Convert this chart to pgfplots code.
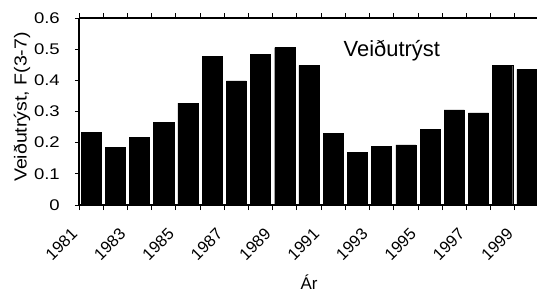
\documentclass[border=0pt]{standalone}
\usepackage{pgfplots}
\pgfplotsset{compat=1.18}
\usepackage{fontspec}
\setmainfont{Liberation Sans}
\newcommand{\yt}[1]{\scalebox{1.2}[1]{#1}}
\begin{document}
\begin{tikzpicture}
\begin{axis}[
  scale only axis,
  width=460bp, height=187bp,
  at={(0,0)}, anchor=south west,
  xmin=-0.5, xmax=18.5,
  ymin=0, ymax=0.6,
  ytick={0,0.1,...,0.6},
  yticklabels={\yt{0},\yt{0.1},\yt{0.2},\yt{0.3},\yt{0.4},\yt{0.5},\yt{0.6}},
  xtick={0,2,...,18},
  xticklabels={1981,1983,1985,1987,1989,1991,1993,1995,1997,1999},
  minor xtick={-0.5,0.5,...,18.5},
  major x tick style={draw=none},
  tick align=outside,
  major tick length=4bp,
  minor tick length=5bp,
  tick style={black, line width=0.8pt},
  axis x line=box,
  axis y line*=left,
  axis line style={line width=1.2pt},
  yticklabel style={font=\fontsize{15.5}{18}\selectfont, inner sep=0pt, xshift=-15bp},
  xticklabel style={font=\fontsize{16.5}{19}\selectfont, xshift=-21bp, yshift=-18bp, rotate=45, anchor=north east, inner sep=0pt},
  every axis y label/.style={at={(axis description cs:-0.124,0.524)}, rotate=90, anchor=center, font=\fontsize{17.5}{20}\selectfont},
  every axis x label/.style={at={(axis description cs:0.5,-0.41)}, anchor=center, font=\fontsize{17}{20}\selectfont},
  ylabel={\scalebox{1.12}[1]{Veiðutrýst, F(3-7)}},
  xlabel={Ár},
  clip=false,
]
\addplot[ybar, bar width=0.83, fill=black, draw=black] coordinates {
 (0,0.234) (1,0.185) (2,0.216) (3,0.265) (4,0.327) (5,0.477) (6,0.398)
 (7,0.484) (8,0.505) (9,0.448) (10,0.230) (11,0.168) (12,0.189) (13,0.193)
 (14,0.243) (15,0.305) (16,0.296) (17,0.447) (18,0.435)
};
\node[anchor=base, font=\fontsize{22}{26}\selectfont] at (axis description cs:0.68,0.793) {Veiðutrýst};
\end{axis}
\pgfresetboundingbox
\useasboundingbox (-79bp,-93bp) rectangle (458bp,205bp);
\end{tikzpicture}
\end{document}
